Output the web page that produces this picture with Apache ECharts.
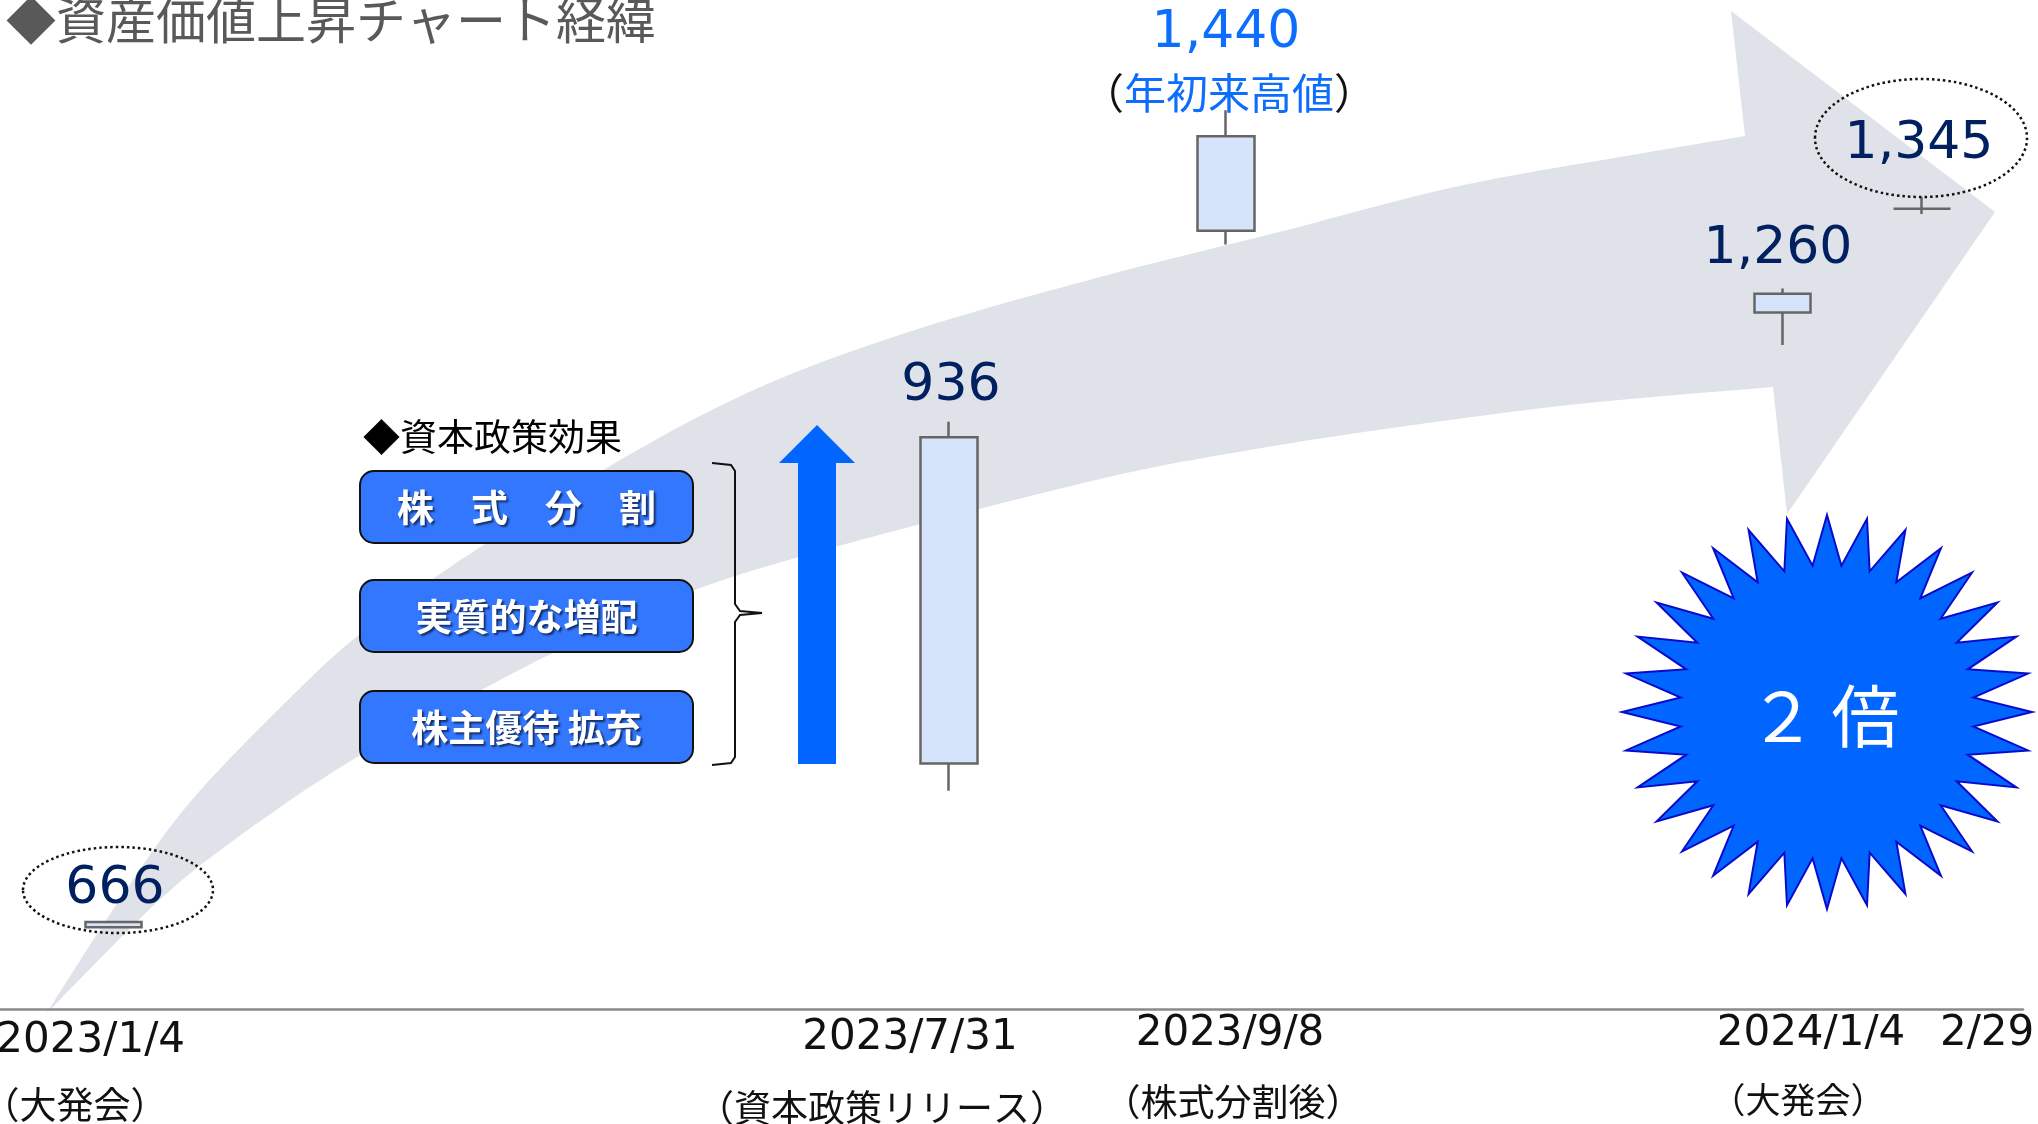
<!DOCTYPE html>
<html>
<head>
<meta charset="utf-8">
<title>資産価値上昇チャート経緯</title>
<script src="https://cdn.jsdelivr.net/npm/echarts/dist/echarts.min.js"></script>
<style>
  html, body { margin: 0; padding: 0; background: #fff; }
  #main { width: 2038px; height: 1124px; }
</style>
</head>
<body>
<div id="main"></div>
<script>
// タイムライン上の位置（0-100）と日付
var dates = ['2023/1/4', '2023/7/31', '2023/9/8', '2024/1/4', '2/29'];
var notes = ['（大発会）', '（資本政策リリース）', '（株式分割後）', '（大発会）'];
var positions = [5.6, 46.9, 60.6, 88.1, 95.0];
// [open, close, low, high] 図上のスケールで読み取り
var opens = [661, 817, 1325, 1247, 1346];
var closes = [666, 1128, 1415, 1265, 1346];
var lows = [660, 791, 1312, 1216, 1341];
var highs = [666, 1143, 1440, 1270, 1357];
var priceLabels = ['666', '936', '1,440', '1,260', '1,345'];
var measures = ['株　式　分　割', '実質的な増配', '株主優待 拡充'];

var chart = echarts.init(document.getElementById('main'));

var candleData = positions.map(function (x, i) {
  return [x, opens[i], closes[i], lows[i], highs[i]];
});

// 曲線をなめらかに（Catmull-Rom）
function spline(pts, steps) {
  var out = [];
  for (var i = 0; i < pts.length - 1; i++) {
    var p0 = pts[Math.max(i - 1, 0)], p1 = pts[i], p2 = pts[i + 1], p3 = pts[Math.min(i + 2, pts.length - 1)];
    for (var s = 0; s < steps; s++) {
      var t = s / steps, t2 = t * t, t3 = t2 * t;
      out.push([0, 1].map(function (k) {
        return 0.5 * (2 * p1[k] + (-p0[k] + p2[k]) * t +
          (2 * p0[k] - 5 * p1[k] + 4 * p2[k] - p3[k]) * t2 +
          (-p0[k] + 3 * p1[k] - 3 * p2[k] + p3[k]) * t3);
      }));
    }
  }
  out.push(pts[pts.length - 1]);
  return out;
}

var upperEdge = [[46, 1014], [122, 896], [191, 801], [291, 697], [360, 634], [459, 561], [627, 456],
  [765, 385], [918, 329], [1100, 277], [1279, 232], [1459, 186], [1638, 154], [1745, 136]];
var lowerEdge = [[1773, 387], [1578, 404], [1399, 427], [1250, 450], [1100, 479], [842, 545],
  [689, 592], [559, 650], [459, 702], [344, 765], [230, 843], [153, 906], [46, 1014]];
var bigArrow = spline(upperEdge, 10)
  .concat([[1731, 11], [1995, 212], [1787, 514]])
  .concat(spline(lowerEdge, 10));

// 星形
function starPoints(cx, cy, rxo, ryo, ri, n) {
  var pts = [];
  for (var i = 0; i < n * 2; i++) {
    var a = -Math.PI / 2 + i * Math.PI / n;
    var ro = i % 2 === 0;
    pts.push([cx + Math.cos(a) * (ro ? rxo : ri), cy + Math.sin(a) * (ro ? ryo : ri)]);
  }
  return pts;
}

var numFont = 'DejaVu Sans';
var jpFont = '"Noto Sans CJK JP", sans-serif';

var elements = [];
elements.push({ type: 'polygon', z: -10, silent: true, shape: { points: bigArrow }, style: { fill: '#DFE2E8' } });

// タイトル
elements.push({ type: 'text', x: 6, y: 20, z: 10, style: { text: '◆資産価値上昇チャート経緯', fill: '#595959',
  font: '50px ' + jpFont, textAlign: 'left', textVerticalAlign: 'middle' } });

// 日付ラベル
var dateXY = [[185, 1041, 'right'], [910, 1038, 'center'], [1230, 1034, 'center'], [1811, 1034, 'center'], [1940, 1034, 'left']];
dates.forEach(function (d, i) {
  elements.push({ type: 'text', x: dateXY[i][0], y: dateXY[i][1], z: 10, style: { text: d, fill: '#111',
    font: '42px ' + numFont, textAlign: dateXY[i][2], textVerticalAlign: 'middle' } });
});
var noteXY = [[75, 1105, 37], [882, 1108, 37], [1233, 1102, 37], [1798, 1100, 35]];
notes.forEach(function (n, i) {
  elements.push({ type: 'text', x: noteXY[i][0], y: noteXY[i][1], z: 10, style: { text: n, fill: '#111',
    font: noteXY[i][2] + 'px ' + jpFont, textAlign: 'center', textVerticalAlign: 'middle' } });
});

// 価格ラベル
var priceXY = [[115, 889], [951, 386], [1226, 33], [1778, 249], [1919, 144]];
priceLabels.forEach(function (p, i) {
  elements.push({ type: 'text', x: priceXY[i][0], y: priceXY[i][1], z: 10, style: { text: p,
    fill: i === 2 ? '#0D6EFD' : '#002060', font: '52px ' + numFont, textAlign: 'center', textVerticalAlign: 'middle' } });
});
elements.push({ type: 'text', x: 1229, y: 93, z: 10, style: { text: '{p|（}{b|年初来高値}{p|）}',
  font: '42px ' + jpFont, textAlign: 'center', textVerticalAlign: 'middle',
  rich: { p: { fill: '#111', font: '42px ' + jpFont }, b: { fill: '#0D6EFD', font: '42px ' + jpFont } } } });

// 点線の楕円
[[118, 890, 95, 43], [1921, 138, 106, 59]].forEach(function (e) {
  elements.push({ type: 'ellipse', z: 9, silent: true, shape: { cx: e[0], cy: e[1], rx: e[2], ry: e[3] },
    style: { fill: 'none', stroke: '#111', lineWidth: 2.5, lineDash: [2.5, 3] } });
});

// 資本政策効果
elements.push({ type: 'text', x: 363, y: 437, z: 10, style: { text: '◆資本政策効果', fill: '#000',
  font: '37px ' + jpFont, textAlign: 'left', textVerticalAlign: 'middle' } });
var boxY = [471, 580, 691];
measures.forEach(function (m, i) {
  elements.push({ type: 'rect', z: 10, shape: { x: 360, y: boxY[i], width: 333, height: 72, r: 14 },
    style: { fill: '#3377FF', stroke: '#111', lineWidth: 2 } });
  elements.push({ type: 'text', x: 526.5, y: boxY[i] + 37, z: 11, style: { text: m, fill: '#fff',
    font: 'bold 37px ' + jpFont, textAlign: 'center', textVerticalAlign: 'middle',
    textShadowColor: 'rgba(0,0,0,0.6)', textShadowOffsetX: 2, textShadowOffsetY: 2, textShadowBlur: 2 } });
});
elements.push({ type: 'polyline', z: 10, shape: { points: [[712, 463], [731, 465], [735, 471], [735, 604],
  [740, 611], [762, 613], [740, 615], [735, 622], [735, 757], [731, 763], [712, 765]] },
  style: { stroke: '#111', lineWidth: 2, fill: 'none' } });
elements.push({ type: 'polygon', z: 10, shape: { points: [[798, 764], [798, 463], [779, 463], [817, 425],
  [855, 463], [836, 463], [836, 764]] }, style: { fill: '#0066FF' } });

// ２倍
elements.push({ type: 'polygon', z: 10, shape: { points: starPoints(1827, 712, 205, 197, 147, 32) },
  style: { fill: '#0066FF', stroke: '#0A0ACC', lineWidth: 2 } });
elements.push({ type: 'text', x: 1824, y: 716, z: 11, style: { text: '２ 倍', fill: '#fff',
  font: '68px ' + jpFont, textAlign: 'center', textVerticalAlign: 'middle' } });

chart.setOption({
  animation: false,
  backgroundColor: '#fff',
  grid: { left: 0, right: 15, top: 0, bottom: 115 },
  xAxis: {
    type: 'value', min: 0, max: 100,
    axisLine: { show: true, onZero: false, lineStyle: { color: '#8a8a8a', width: 2.5 } },
    axisTick: { show: false }, axisLabel: { show: false }, splitLine: { show: false }
  },
  yAxis: { type: 'value', min: 583, max: 1545, show: false, splitLine: { show: false } },
  series: [{
    type: 'candlestick',
    barWidth: 57,
    data: candleData,
    encode: { x: 0, y: [1, 2, 3, 4] },
    itemStyle: {
      color: '#D6E4FB', color0: '#D6E4FB',
      borderColor: '#666', borderColor0: '#666', borderColorDoji: '#666', borderWidth: 2.5
    },
    emphasis: { disabled: true }
  }],
  graphic: { elements: elements }
});
</script>
</body>
</html>
